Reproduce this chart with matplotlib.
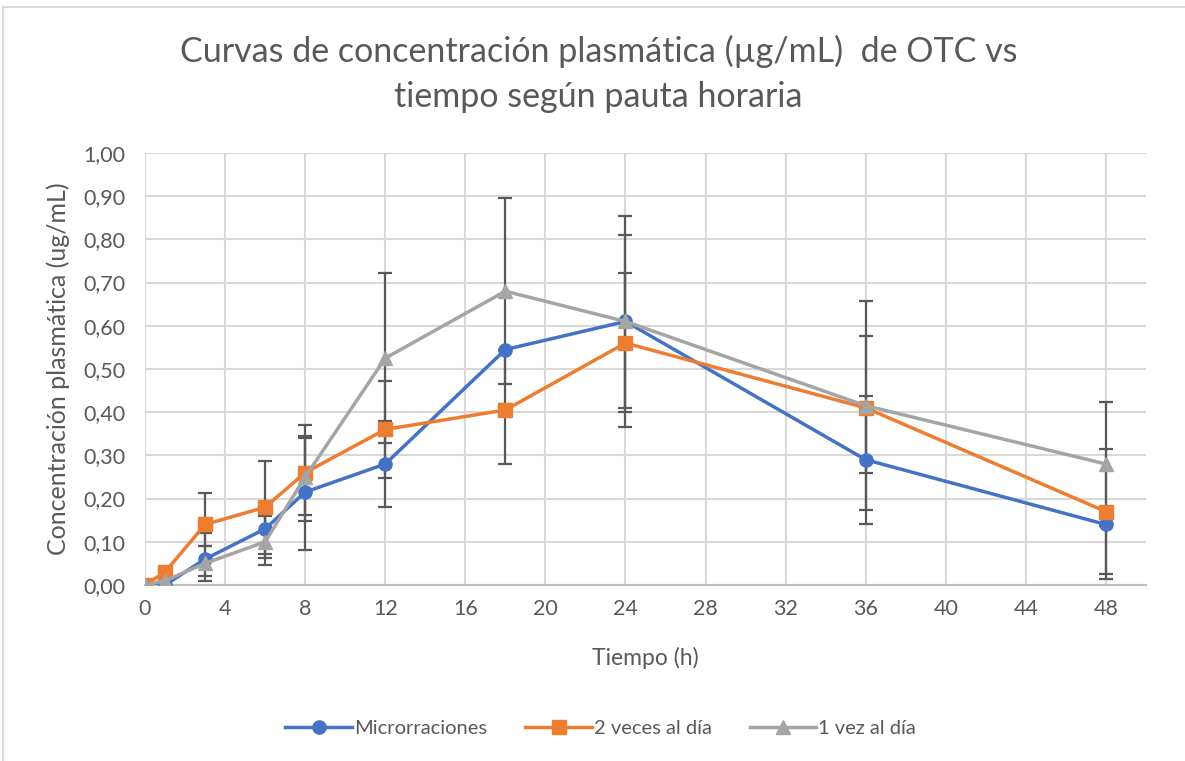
import numpy as np
import matplotlib.pyplot as plt
from matplotlib.patches import Rectangle
from matplotlib.ticker import FuncFormatter

plt.rcParams['font.family'] = ['Lato', 'DejaVu Sans']

# Tiempo (h)
tiempo = [0, 1, 3, 6, 8, 12, 18, 24, 36, 48]

# Concentracion media por pauta
micro = [0.00, 0.00, 0.06, 0.13, 0.215, 0.28, 0.545, 0.61, 0.29, 0.14]
dos_veces = [0.00, 0.03, 0.14, 0.18, 0.26, 0.36, 0.405, 0.56, 0.41, 0.17]
una_vez = [0.00, 0.01, 0.05, 0.10, 0.25, 0.525, 0.68, 0.61, 0.415, 0.28]

# Barras de error (inferior, superior)
micro_lo = [0, 0, 0.05, 0.068, 0.134, 0.10, 0.265, 0.20, 0.15, 0.126]
micro_hi = [0, 0, 0.06, 0.032, 0.13, 0.10, 0.0, 0.20, 0.147, 0.0]
dos_lo = [0, 0, 0.05, 0.108, 0.112, 0.112, 0.015, 0.16, 0.15, 0.145]
dos_hi = [0, 0, 0.073, 0.107, 0.11, 0.112, 0.015, 0.162, 0.167, 0.145]
una_lo = [0, 0, 0.03, 0.054, 0.088, 0.197, 0.215, 0.245, 0.242, 0.143]
una_hi = [0, 0, 0.04, 0.06, 0.09, 0.197, 0.215, 0.245, 0.242, 0.143]

series = [
    ('Microrraciones', micro, micro_lo, micro_hi, '#4472C4', 'o', 9.5),
    ('2 veces al día', dos_veces, dos_lo, dos_hi, '#ED7D31', 's', 9.5),
    ('1 vez al día', una_vez, una_lo, una_hi, '#A5A5A5', '^', 9.5),
]

fig = plt.figure(figsize=(11.85, 7.61), dpi=100)
ax = fig.add_axes([0.1224, 0.2313, 0.967 - 0.1224, 0.799 - 0.2313])

# marco del grafico
fig.patches.append(Rectangle((3 / 1185, -0.01), 1.02, 1 - 7 / 761 + 0.01,
                             transform=fig.transFigure, fill=False,
                             edgecolor='#D9D9D9', linewidth=1.5))

for name, y, lo, hi, color, marker, ms in series:
    ax.errorbar(tiempo, y, yerr=[lo, hi], fmt='none', ecolor='#595959',
                elinewidth=1.6, capsize=5, capthick=1.6, zorder=2)
    ax.plot(tiempo, y, color=color, marker=marker, markersize=ms,
            linewidth=2.5, label=name, zorder=3)

ax.set_xlim(0, 50)
ax.set_ylim(0, 1.0)
ax.set_xticks(np.arange(0, 49, 4))
ax.set_yticks(np.arange(0, 1.01, 0.1))
ax.yaxis.set_major_formatter(FuncFormatter(lambda v, p: f'{v:.2f}'.replace('.', ',')))
ax.grid(True, color='#D9D9D9', linewidth=1.5)
ax.set_axisbelow(True)
for s in ['top', 'right', 'left']:
    ax.spines[s].set_visible(False)
ax.spines['bottom'].set_color('#BFBFBF')
ax.spines['bottom'].set_linewidth(1.5)
ax.tick_params(length=0, labelsize=15.5, colors='#595959')
ax.tick_params(axis='y', pad=14)
ax.tick_params(axis='x', pad=10)

ax.set_xlabel('Tiempo (h)', fontsize=16.5, color='#595959', labelpad=20)
ax.set_ylabel('Concentración plasmática (ug/mL)', fontsize=18, color='#595959', labelpad=10)

fig.text(0.505, 0.903, 'Curvas de concentración plasmática (µg/mL)  de OTC vs\ntiempo según pauta horaria',
         ha='center', va='center', fontsize=24.5, color='#595959', linespacing=1.5)

fig.legend(loc='lower center', bbox_to_anchor=(0.507, 0.008), ncol=3, frameon=False,
           fontsize=14.5, handlelength=3.3, columnspacing=1.9, handletextpad=0.1,
           labelcolor='#595959')

fig.savefig('out.png', dpi=100)
